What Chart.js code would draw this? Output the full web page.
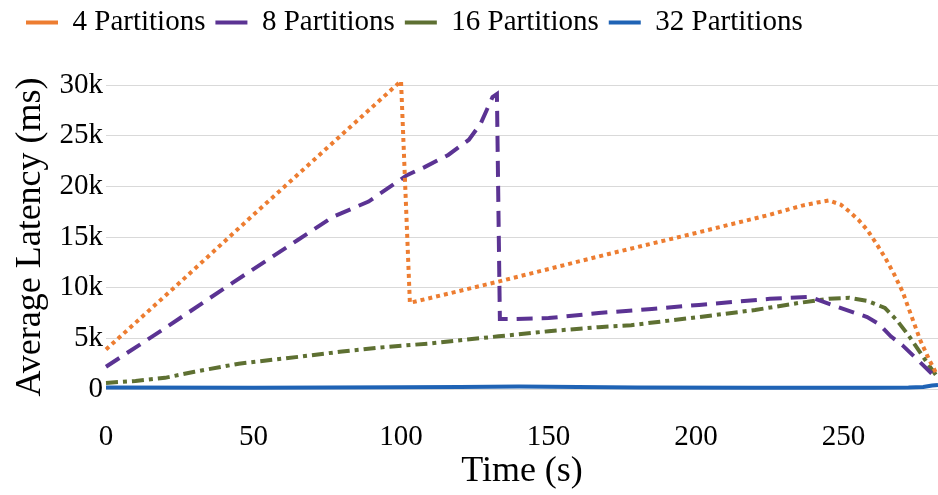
<!DOCTYPE html>
<html><head><meta charset="utf-8">
<script src="https://cdn.jsdelivr.net/npm/chart.js@4.4.0/dist/chart.umd.min.js"></script>
<style>html,body{margin:0;padding:0;background:#fff;}#wrap{width:938px;height:495px;position:relative;}</style>
</head><body><div id="wrap"><canvas id="c"></canvas></div>
<script>
const seriesNames = ['4 Partitions', '8 Partitions', '16 Partitions', '32 Partitions'];

const time4 = [0, 25, 50, 75, 100, 103, 133, 170, 200, 225, 236, 241, 245, 249, 252, 255, 258, 261, 264, 267, 270, 273, 276, 279, 281.5];
const lat4  = [3900, 10500, 17200, 23800, 30400, 8500, 10600, 13300, 15400, 17200, 18100, 18400, 18600, 18200, 17500, 16700, 15700, 14400, 13000, 11400, 9600, 7200, 4800, 2900, 1500];

const time8 = [0, 20, 43, 65, 77, 89, 102, 108, 116, 123, 127, 131, 132.5, 133.5, 137, 150, 167, 185, 201, 225, 238.5, 248, 258, 262, 266, 270, 275, 281];
const lat8  = [2200, 6000, 10500, 14700, 17000, 18500, 21100, 21900, 23100, 24600, 26200, 28800, 29100, 6900, 6900, 7000, 7500, 7900, 8300, 8900, 9100, 8100, 7100, 6400, 5200, 4300, 2900, 1200];

const time16 = [0, 10, 20, 30, 45, 66, 80, 93, 110, 133, 150, 167, 178, 201, 220, 235, 245, 252, 258, 264, 268, 272, 276, 279, 281.5];
const lat16  = [600, 800, 1100, 1700, 2500, 3200, 3700, 4100, 4500, 5200, 5700, 6100, 6300, 7100, 7800, 8500, 8900, 9000, 8700, 8000, 6800, 5300, 3600, 2300, 1300];

const time32 = [0, 50, 100, 120, 140, 160, 180, 220, 260, 272, 277, 280, 282];
const lat32  = [150, 120, 170, 200, 250, 200, 150, 120, 120, 150, 200, 350, 400];

const xTicks = [0, 50, 100, 150, 200, 250];
const yTicks = [0, 5000, 10000, 15000, 20000, 25000, 30000];

const serif = "'Liberation Serif', 'Times New Roman', serif";
Chart.defaults.font.family = serif;
Chart.defaults.color = '#000';
const pts = (xs, ys) => xs.map((x, i) => ({x: x, y: ys[i]}));

const legendShift = {
  id: 'legendShift',
  afterLayout(chart) {
    const l = chart.legend;
    const h = l.bottom - l.top;
    l.left = 16;
    l.top = -2;
    l.bottom = l.top + h;
  }
};

new Chart(document.getElementById('c'), {
  type: 'line',
  data: {
    datasets: [
      {label: seriesNames[0], data: pts(time4, lat4), borderColor: '#ED7D31', borderWidth: 4, borderDash: [4, 4], pointStyle: 'line', clip: false},
      {label: seriesNames[1], data: pts(time8, lat8), borderColor: '#5B3393', borderWidth: 4, borderDash: [16, 9], pointStyle: 'line', clip: false},
      {label: seriesNames[2], data: pts(time16, lat16), borderColor: '#5E7032', borderWidth: 4, borderDash: [12, 5, 4, 5], pointStyle: 'line', clip: false},
      {label: seriesNames[3], data: pts(time32, lat32), borderColor: '#1F63B5', borderWidth: 4, pointStyle: 'line', clip: false}
    ]
  },
  options: {
    responsive: true,
    maintainAspectRatio: false,
    animation: false,
    layout: {padding: {top: 36, left: 0, right: 0, bottom: 0}},
    elements: {point: {radius: 0, hoverRadius: 0}, line: {tension: 0, borderCapStyle: 'butt'}},
    plugins: {
      tooltip: {enabled: false},
      legend: {
        position: 'top',
        align: 'start',
        labels: {
          usePointStyle: true,
          pointStyleWidth: 32,
          padding: 10,
          color: '#000',
          font: {family: serif, size: 29}
        }
      }
    },
    scales: {
      x: {
        type: 'linear',
        min: 0,
        max: 282,
        grid: {display: false, drawTicks: false},
        border: {display: false},
        afterBuildTicks: s => { s.ticks = xTicks.map(v => ({value: v})); },
        afterFit: s => { s.height = 106; },
        ticks: {color: '#000', padding: 31, maxRotation: 0, font: {family: serif, size: 29}},
        title: {display: true, text: 'Time (s)', color: '#000', font: {family: serif, size: 36}, padding: {top: 2, bottom: 2}}
      },
      y: {
        min: 0,
        max: 30000,
        grid: {color: '#d9d9d9', lineWidth: 1, drawTicks: false},
        border: {display: false},
        afterBuildTicks: s => { s.ticks = yTicks.map(v => ({value: v})); },
        afterFit: s => { s.width = 106; },
        ticks: {color: '#000', padding: 3, font: {family: serif, size: 29},
          callback: v => v === 0 ? '0' : (v / 1000) + 'k'},
        title: {display: true, text: 'Average Latency (ms)', color: '#000', font: {family: serif, size: 36}, padding: {top: 9, bottom: 7}}
      }
    }
  },
  plugins: [legendShift]
});
</script>
</body></html>
